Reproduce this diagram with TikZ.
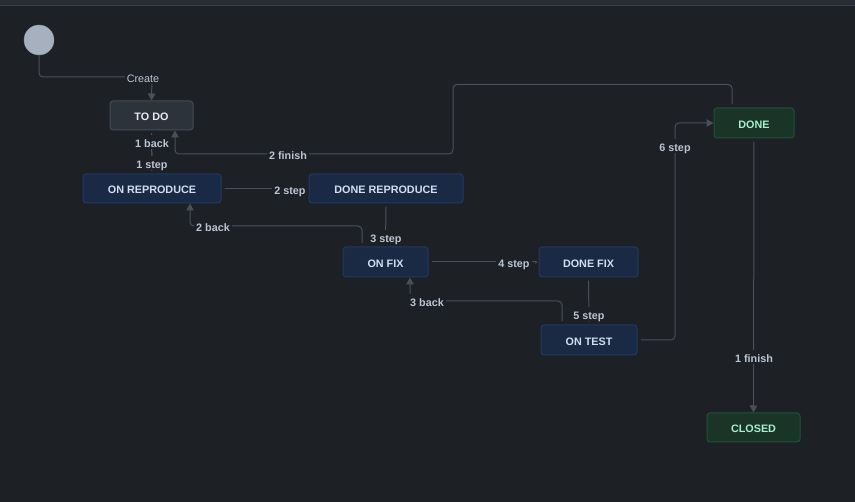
\documentclass[tikz,border=0pt]{standalone}
\usepackage{fontspec}
\setmainfont{Liberation Sans}
\usetikzlibrary{arrows.meta}
\definecolor{bg}{HTML}{1D2025}
\definecolor{topbar}{HTML}{272B32}
\definecolor{topline}{HTML}{3B4048}
\definecolor{startcol}{HTML}{A7B0BE}
\definecolor{greyfill}{HTML}{2D333B}
\definecolor{greyline}{HTML}{454C56}
\definecolor{greytext}{HTML}{E6EBF1}
\definecolor{bluefill}{HTML}{1B2A44}
\definecolor{blueline}{HTML}{1E3A64}
\definecolor{bluetext}{HTML}{D2DEF0}
\definecolor{greenfill}{HTML}{1B3428}
\definecolor{greenline}{HTML}{215237}
\definecolor{greentext}{HTML}{A4F0C8}
\definecolor{edgecol}{HTML}{4A5059}
\definecolor{lbltext}{HTML}{BAC5D4}
\begin{document}
\begin{tikzpicture}[x=1pt, y=-1pt, font=\fontsize{10.8}{13}\selectfont\bfseries, line join=round, line cap=round,
    >={Triangle[length=7pt,width=7.5pt]},
    stbox/.style={draw, rounded corners=3pt, minimum height=29pt, inner sep=0pt, line width=1pt, text height=10.8pt, text depth=0pt},
    greybox/.style={stbox, fill=greyfill, draw=greyline, text=greytext},
    bluebox/.style={stbox, fill=bluefill, draw=blueline, text=bluetext},
    greenbox/.style={stbox, fill=greenfill, draw=greenline, text=greentext},
    edge/.style={draw=edgecol, line width=1pt, rounded corners=4pt, shorten <=3.5pt},
    plain/.style={edge, shorten >=3pt},
    lbl/.style={fill=bg, text=lbltext, inner xsep=2pt, inner ysep=2pt, text height=10.8pt, text depth=0pt}]

    \fill[bg] (0,0) rectangle (855,502);
    \useasboundingbox (0,0) rectangle (855,502);
    \fill[topbar] (0,0) rectangle (855,5);
    \draw[topline, line width=1pt] (0,5.5)--(855,5.5);

    \node[circle, fill=startcol, draw=startcol!85!black, minimum size=30pt, inner sep=0pt] (start) at (39,40) {};
    \node[greybox, minimum width=83pt] (todo) at (151.5,115.5) {TO DO};
    \node[bluebox, minimum width=138pt] (onrep) at (152,188.5) {ON REPRODUCE};
    \node[bluebox, minimum width=154pt] (donerep) at (386,188.5) {DONE REPRODUCE};
    \node[bluebox, minimum width=85pt, minimum height=30pt] (onfix) at (385.5,262) {ON FIX};
    \node[bluebox, minimum width=99pt, minimum height=30pt] (donefix) at (588.5,262) {DONE FIX};
    \node[bluebox, minimum width=96pt, minimum height=30pt] (ontest) at (589,340) {ON TEST};
    \node[greenbox, minimum width=80pt, minimum height=30pt] (done) at (754,123) {DONE};
    \node[greenbox, minimum width=93pt] (closed) at (753.5,427.5) {CLOSED};

    \draw[edge, shorten <=0pt, ->] (start.south) |- (152,77) -- (todo.north);
    \draw[plain] (todo.south) -- (onrep.north);
    \draw[plain] (onrep.north) -- (todo.south);
    \draw[edge, ->] ([xshift=-22pt]done.north) -- ++(0,-23) -| (453,154) -| ([xshift=23.5pt]todo.south);
    \draw[plain] (onrep.east) -- (donerep.west);
    \draw[plain] (donerep.south) -- (onfix.north);
    \draw[edge, ->] ([xshift=-23.5pt]onfix.north) |- (190,226) -- ([xshift=38pt]onrep.south);
    \draw[edge, -{Triangle[length=2.5pt,width=3pt]}, shorten >=1pt] (onfix.east) -- (donefix.west);
    \draw[plain] (donefix.south) -- (ontest.north);
    \draw[edge, ->] ([xshift=-27pt]ontest.north) |- (410,301) -- ([xshift=24.5pt]onfix.south);
    \draw[edge, ->] (ontest.east) -| (675,123) -- (done.west);
    \draw[edge, ->] (done.south) -- (closed.north);

    \node[lbl, font=\fontsize{10.8}{13}\selectfont] (lcreate) at (143,77) {Create};
    \node[lbl] (lback1) at (152,142) {1 back};
    \node[lbl] (lstep1) at (152,163) {1 step};
    \node[lbl] (lfinish2) at (288,154) {2 finish};
    \node[lbl] (lstep2) at (290,189) {2 step};
    \node[lbl] (lstep3) at (386,237) {3 step};
    \node[lbl] (lback2) at (213,226) {2 back};
    \node[lbl] (lstep4) at (514,262) {4 step};
    \node[lbl] (lstep5) at (589,314) {5 step};
    \node[lbl] (lback3) at (427,301) {3 back};
    \node[lbl] (lstep6) at (675,146) {6 step};
    \node[lbl] (lfinish1) at (754,357) {1 finish};
\end{tikzpicture}
\end{document}
